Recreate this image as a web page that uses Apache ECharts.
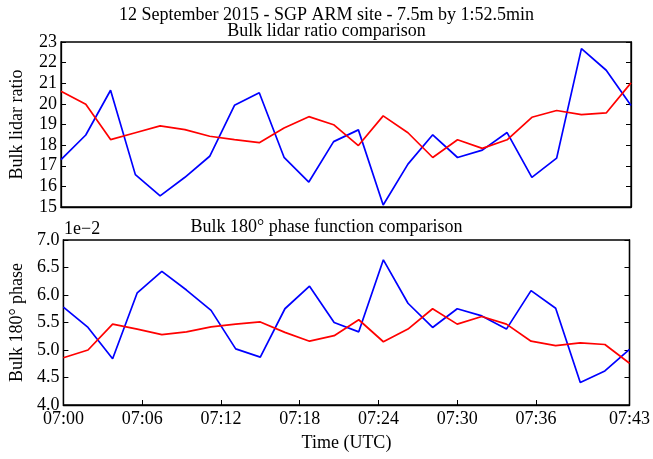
<!DOCTYPE html>
<html>
<head>
<meta charset="utf-8">
<script src="https://cdn.jsdelivr.net/npm/echarts@6/dist/echarts.min.js"></script>
<style>
  html, body { margin: 0; padding: 0; background: #fff; }
  #chart { width: 653px; height: 459px; }
</style>
</head>
<body>
<div id="chart"></div>
<script>
// minutes after 07:00, one profile every 1:52.5 min
const STEP = 1.875;
const minutes = Array.from({ length: 24 }, (_, i) => i * STEP);

// bulk lidar ratio
const lidarBlue = [17.30, 18.49, 20.66, 16.57, 15.54, 16.44, 17.46, 19.93, 20.54, 17.41, 16.21, 18.17,
                   18.74, 15.10, 17.08, 18.50, 17.40, 17.76, 18.61, 16.44, 17.37, 22.68, 21.63, 19.92];
const lidarRed  = [20.61, 19.98, 18.27, 18.60, 18.93, 18.75, 18.43, 18.27, 18.12, 18.83, 19.38, 18.99,
                   17.98, 19.42, 18.60, 17.40, 18.26, 17.84, 18.26, 19.35, 19.68, 19.48, 19.56, 21.02];

// bulk 180 deg phase function, in units of 1e-2
const phaseBlue = [5.78, 5.41, 4.84, 6.04, 6.43, 6.09, 5.72, 5.02, 4.87, 5.75, 6.16, 5.50,
                   5.33, 6.64, 5.85, 5.41, 5.75, 5.62, 5.38, 6.08, 5.76, 4.41, 4.62, 5.01];
const phaseRed  = [4.86, 5.00, 5.47, 5.38, 5.28, 5.33, 5.42, 5.47, 5.51, 5.32, 5.16, 5.26,
                   5.55, 5.15, 5.38, 5.75, 5.47, 5.61, 5.47, 5.16, 5.08, 5.13, 5.10, 4.76];

const timeTicks = [0, 6, 12, 18, 24, 30, 36, 43.125];

const FONT = 'Liberation Serif';
const FS = 18;
const chart = echarts.init(document.getElementById('chart'));

function hhmm(v) {
  const m = Math.floor(v + 1e-6);
  return '07:' + String(m).padStart(2, '0');
}
function pairs(ys) { return minutes.map((m, i) => [m, ys[i]]); }
function line(name, x, y, data, color) {
  return {
    name, type: 'line', xAxisIndex: x, yAxisIndex: y, data: pairs(data),
    symbol: 'none', lineStyle: { color, width: 1.7 }, animation: false
  };
}

const frame = { show: true, lineStyle: { color: '#000', width: 1.3 } };
const inTick = { show: true, inside: true, length: 5, lineStyle: { color: '#000', width: 1 } };
const lbl = { color: '#000', fontFamily: FONT, fontSize: FS };
const ttl = { fontFamily: FONT, fontSize: FS, fontWeight: 'normal', color: '#000' };

chart.setOption({
  backgroundColor: '#fff',
  textStyle: { fontFamily: FONT },
  title: [
    { text: '12 September 2015 - SGP ARM site - 7.5m by 1:52.5min', left: 'center', top: 1, textStyle: ttl },
    { text: 'Bulk lidar ratio comparison', left: 'center', top: 17, textStyle: ttl },
    { text: 'Bulk 180° phase function comparison', left: 'center', top: 213, textStyle: ttl },
    { text: '1e\u22122', left: 59, top: 215, textStyle: ttl }
  ],
  grid: [
    { left: 60, right: 22, top: 42, height: 165, show: true, borderColor: '#000', borderWidth: 1.3 },
    { left: 60, right: 22, top: 240, height: 165, show: true, borderColor: '#000', borderWidth: 1.3 }
  ],
  xAxis: [
    { type: 'value', gridIndex: 0, min: 0, max: 43.125, axisLine: frame,
      axisTick: { show: false }, axisLabel: { show: false }, splitLine: { show: false } },
    { type: 'value', gridIndex: 1, min: 0, max: 43.125, axisLine: frame,
      axisTick: Object.assign({}, inTick, { customValues: timeTicks }),
      axisLabel: Object.assign({}, lbl, { customValues: timeTicks, formatter: hhmm, margin: 5 }),
      splitLine: { show: false },
      name: 'Time (UTC)', nameLocation: 'middle', nameGap: 29,
      nameTextStyle: { fontFamily: FONT, fontSize: FS, color: '#000' } }
  ],
  yAxis: [
    { type: 'value', gridIndex: 0, min: 15, max: 23, interval: 1, axisLine: frame, axisTick: inTick,
      axisLabel: Object.assign({}, lbl, { margin: 4, lineHeight: 14 }), splitLine: { show: false },
      name: 'Bulk lidar ratio', nameLocation: 'middle', nameGap: 35,
      nameTextStyle: { fontFamily: FONT, fontSize: FS, color: '#000' } },
    { type: 'value', gridIndex: 0, position: 'right', min: 15, max: 23, interval: 1, axisLine: frame,
      axisTick: inTick, axisLabel: { show: false }, splitLine: { show: false } },
    { type: 'value', gridIndex: 1, min: 4, max: 7, interval: 0.5, axisLine: frame, axisTick: inTick,
      axisLabel: Object.assign({}, lbl, { margin: 4, lineHeight: 14, formatter: v => v.toFixed(1) }),
      splitLine: { show: false },
      name: 'Bulk 180° phase', nameLocation: 'middle', nameGap: 35,
      nameTextStyle: { fontFamily: FONT, fontSize: FS, color: '#000' } },
    { type: 'value', gridIndex: 1, position: 'right', min: 4, max: 7, interval: 0.5, axisLine: frame,
      axisTick: inTick, axisLabel: { show: false }, splitLine: { show: false } }
  ],
  series: [
    line('lidar ratio A', 0, 0, lidarBlue, '#0000ff'),
    line('lidar ratio B', 0, 0, lidarRed, '#ff0000'),
    line('phase A', 1, 2, phaseBlue, '#0000ff'),
    line('phase B', 1, 2, phaseRed, '#ff0000')
  ]
});
</script>
</body>
</html>
